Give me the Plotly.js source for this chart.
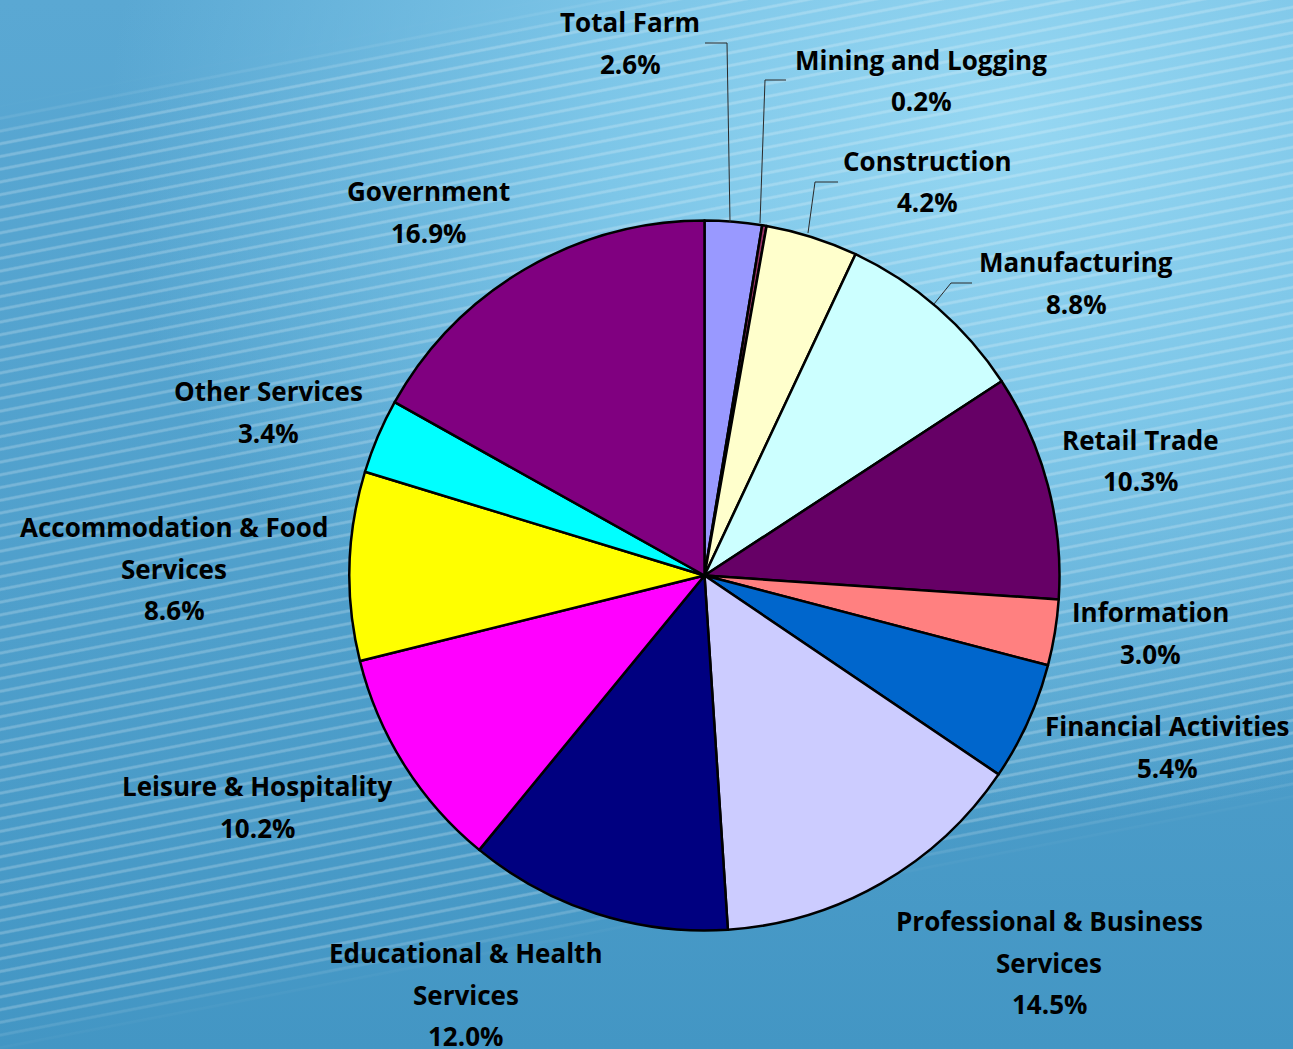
<!DOCTYPE html>
<html>
<head>
<meta charset="utf-8">
<script src="https://cdn.plot.ly/plotly-3.0.1.min.js"></script>
<style>
  html, body { margin: 0; padding: 0; width: 1293px; height: 1049px; overflow: hidden; }
  #wrap { position: relative; width: 1293px; height: 1049px;
    background:
      radial-gradient(ellipse 900px 700px at 78% 12%, rgba(150,215,242,1) 0%, rgba(125,198,232,1) 45%, rgba(95,172,212,0) 100%),
      linear-gradient(180deg, #5aa8d3 0%, #4f9fcb 60%, #4396c4 100%);
  }
  #stripes { position: absolute; left: 0; top: 0; width: 1293px; height: 1049px;
    background: repeating-linear-gradient(-11deg, rgba(255,255,255,0) 0px, rgba(255,255,255,0) 8px, rgba(255,255,255,0.22) 9.5px, rgba(255,255,255,0.22) 11px, rgba(255,255,255,0) 12.5px);
    -webkit-mask-image: linear-gradient(-11deg, transparent 19%, black 22%, black 89%, transparent 92%);
    mask-image: linear-gradient(-11deg, transparent 19%, black 22%, black 89%, transparent 92%);
  }
  #chart { position: absolute; left: 0; top: 0; width: 1293px; height: 1049px; }
</style>
</head>
<body>
<div id="wrap"><div id="stripes"></div><div id="chart"></div></div>
<script>
// ---- data ----
const categories = [
  'Total Farm', 'Mining and Logging', 'Construction', 'Manufacturing',
  'Retail Trade', 'Information', 'Financial Activities',
  'Professional & Business Services', 'Educational & Health Services',
  'Leisure & Hospitality', 'Accommodation & Food Services',
  'Other Services', 'Government'
];
const shares = [2.6, 0.2, 4.2, 8.8, 10.3, 3.0, 5.4, 14.5, 12.0, 10.2, 8.6, 3.4, 16.9];
const sliceColors = [
  '#9999FF', '#993366', '#FFFFCC', '#CCFFFF', '#660066', '#FF8080', '#0066CC',
  '#CCCCFF', '#000080', '#FF00FF', '#FFFF00', '#00FFFF', '#800080'
];

// ---- layout (label placement, in pixels of the 1293x1049 page) ----
const W = 1293, H = 1049;
const wrapAt = {
  'Professional & Business Services': ['Professional & Business', 'Services'],
  'Educational & Health Services': ['Educational & Health', 'Services'],
  'Accommodation & Food Services': ['Accommodation & Food', 'Services']
};
const labelPos = [ // [centre x, first line y]
  [630, 22], [921, 60], [927, 161], [1076, 262], [1140, 440], [1150, 612],
  [1167, 726], [1049, 921], [466, 953], [257, 786], [174, 527], [268, 391], [429, 191]
];
const lineGap = 41.5;
const leaders = [ // polyline points in px
  [[705, 43], [727, 43], [730, 222]],
  [[786, 80], [765, 80], [760, 223]],
  [[838, 182], [815, 182], [808, 233]],
  [[972, 283], [951, 283], [934, 304]]
];
const px = x => x / W, py = y => 1 - y / H;

const annotations = [];
categories.forEach((c, i) => {
  const lines = (wrapAt[c] || [c]).concat([shares[i].toFixed(1) + '%']);
  lines.forEach((t, k) => {
    annotations.push({
      text: t, showarrow: false, xref: 'paper', yref: 'paper',
      x: px(labelPos[i][0]), y: py(labelPos[i][1] + k * lineGap),
      xanchor: 'center', yanchor: 'middle',
      font: { family: '"Open Sans", Lato, sans-serif', size: 26, color: '#000', weight: 700 }
    });
  });
});

const shapes = leaders.map(pts => ({
  type: 'path', xref: 'paper', yref: 'paper',
  path: pts.map((p, k) => (k ? 'L ' : 'M ') + px(p[0]) + ' ' + py(p[1])).join(' '),
  line: { color: '#2a2a2a', width: 1 }
}));

const trace = {
  type: 'pie',
  labels: categories,
  values: shares,
  sort: false,
  direction: 'clockwise',
  rotation: 0,
  textinfo: 'none',
  hoverinfo: 'label+value',
  showlegend: false,
  marker: { colors: sliceColors, line: { color: '#000', width: 2.5 } },
  domain: { x: [px(349.5), px(1059.5)], y: [py(930.5), py(220.5)] }
};

Plotly.newPlot('chart', [trace], {
  width: W, height: H,
  margin: { l: 0, r: 0, t: 0, b: 0 },
  paper_bgcolor: 'rgba(0,0,0,0)',
  plot_bgcolor: 'rgba(0,0,0,0)',
  annotations: annotations,
  shapes: shapes
}, { displayModeBar: false, staticPlot: true });
</script>
</body>
</html>
